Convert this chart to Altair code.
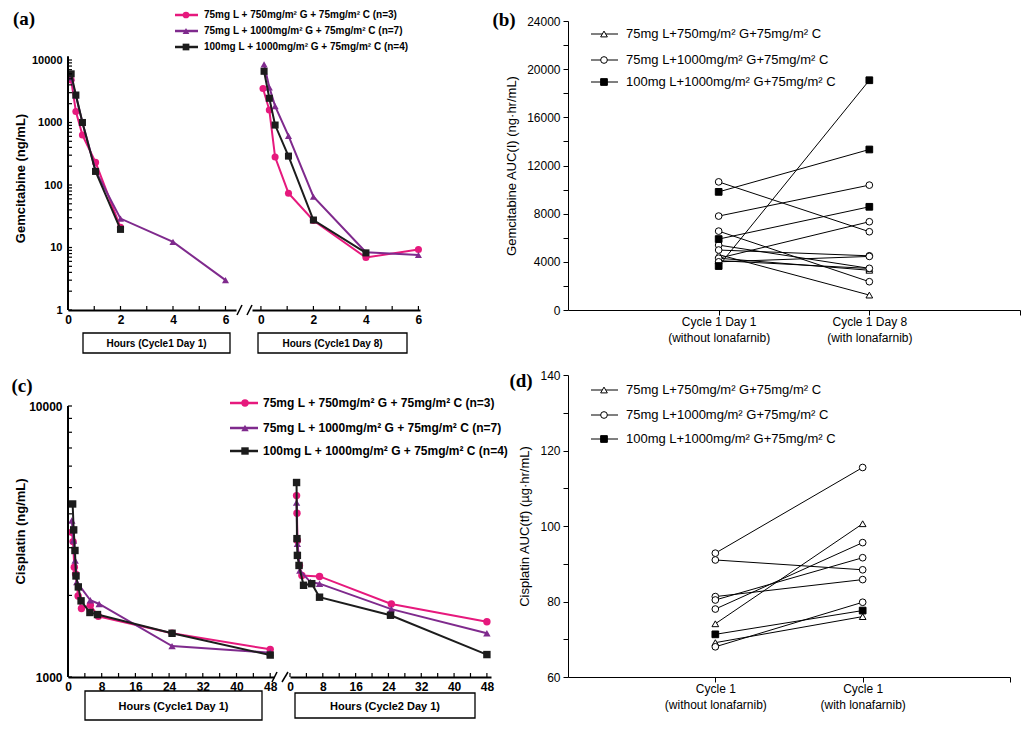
import altair as alt
import pandas as pd

# ---------------- colours, labels ----------------
PINK = "#E6197D"
PURPLE = "#7F2A8D"
BLACK = "#1C1C1C"
PK_COLORS = [PINK, PURPLE, BLACK]
PK_SHAPES = ["circle", "triangle-up", "square"]

PK_LEGEND = [
    "75mg L + 750mg/m² G + 75mg/m² C (n=3)",
    "75mg L + 1000mg/m² G + 75mg/m² C (n=7)",
    "100mg L + 1000mg/m² G + 75mg/m² C (n=4)",
]
AUC_LEGEND = [
    "75mg L+750mg/m² G+75mg/m² C",
    "75mg L+1000mg/m² G+75mg/m² C",
    "100mg L+1000mg/m² G+75mg/m² C",
]

# ---------------- (a) Gemcitabine concentration (ng/mL) ----------------
# Cycle 1 Day 1
a1_pink_t = [0.12, 0.3, 0.55, 1.05, 2.0]
a1_pink_v = [4800, 1500, 630, 230, 21]
a1_purple_t = [0.12, 0.3, 0.55, 1.05, 2.0, 4.0, 6.0]
a1_purple_v = [5200, 2700, 1000, 170, 29, 12.3, 3.0]
a1_black_t = [0.12, 0.3, 0.55, 1.05, 2.0]
a1_black_v = [6000, 2750, 1000, 165, 19.5]
# Cycle 1 Day 8
a8_pink_t = [0.08, 0.32, 0.54, 1.05, 2.0, 4.0, 6.0]
a8_pink_v = [3500, 1580, 280, 74, 27, 6.9, 9.3]
a8_purple_t = [0.12, 0.32, 0.54, 1.05, 2.0, 4.0, 6.0]
a8_purple_v = [8500, 3650, 1830, 610, 65, 8.4, 7.6]
a8_black_t = [0.12, 0.32, 0.54, 1.05, 2.0, 4.0]
a8_black_v = [6600, 2440, 910, 290, 27.5, 8.2]

# ---------------- (c) Cisplatin concentration (ng/mL) ----------------
# Cycle 1 Day 1
c1_pink_t = [0.9, 1.2, 1.5, 1.8, 2.4, 3.2, 5.3, 7.2, 24.7, 48]
c1_pink_v = [3420, 3160, 2540, 2400, 1990, 1790, 1840, 1675, 1450, 1265]
c1_purple_t = [0.9, 1.3, 1.7, 2.1, 5.3, 7.4, 24.7, 48]
c1_purple_v = [3780, 3190, 2690, 2240, 1920, 1860, 1300, 1230]
c1_black_t = [1.1, 1.35, 1.65, 1.9, 2.45, 3.1, 5.2, 7.0, 24.7, 48]
c1_black_v = [4350, 3490, 2930, 2360, 2150, 1910, 1730, 1700, 1450, 1205]
# Cycle 2 Day 1
c2_pink_t = [1.6, 1.7, 1.8, 2.3, 2.9, 7.2, 24.7, 48]
c2_pink_v = [4670, 4020, 3190, 2580, 2370, 2350, 1860, 1600]
c2_purple_t = [1.6, 1.8, 2.4, 5.0, 7.2, 24.7, 48]
c2_purple_v = [4400, 3100, 2470, 2240, 2210, 1780, 1450]
c2_black_t = [1.6, 1.7, 1.8, 2.2, 3.3, 5.3, 7.2, 24.5, 48]
c2_black_v = [5220, 3240, 2810, 2580, 2180, 2210, 1970, 1690, 1210]

# ---------------- (b) Gemcitabine AUC(I) (ng·hr/mL) ----------------
b_tri_day1 = [4600, 4300, 4100]
b_tri_day8 = [1240, 3300, 3450]
b_circ_day1 = [10640, 7800, 6550, 5390, 4980, 4300, 4000]
b_circ_day8 = [6500, 10370, 2350, 3460, 4500, 7330, 4450]
b_sq_day1 = [9810, 5890, 3650]
b_sq_day8 = [13330, 8570, 19080]

# ---------------- (d) Cisplatin AUC(tf) (µg·hr/mL) ----------------
d_tri_c1 = [74.1, 69.1]
d_tri_c2 = [100.6, 76.0]
d_circ_c1 = [92.8, 91.0, 81.3, 80.4, 78.0, 68.0]
d_circ_c2 = [115.5, 88.4, 85.8, 91.6, 95.6, 79.8]
d_sq_c1 = [71.3]
d_sq_c2 = [77.6]

# tick positions
a_xticks = [0, 1, 2, 3, 4, 5, 6]
a_yticks = [m * 10 ** k for k in range(0, 4) for m in range(1, 10)] + [10000]
c_xticks = [0, 4, 8, 12, 16, 20, 24, 28, 32, 36, 40, 44, 48]
c_yticks = [1000, 2000, 3000, 4000, 5000, 6000, 7000, 8000, 9000, 10000]

SANS = "Liberation Sans, Arial, sans-serif"
NARROW = "Liberation Sans Narrow, Arial Narrow, Liberation Sans, sans-serif"
SERIF = "Liberation Serif, Times New Roman, serif"
ONE = pd.DataFrame({"k": [0]})


def txt(x, y, s, size, font=SANS, weight="normal", align="left", baseline="middle"):
    return alt.Chart(ONE).mark_text(
        font=font, fontSize=size, fontWeight=weight, align=align, baseline=baseline, color="black"
    ).encode(x=alt.value(x), y=alt.value(y), text=alt.value(s))


def seg(x0, y0, x1, y1, width=1.5, color="black"):
    return alt.Chart(ONE).mark_rule(color=color, strokeWidth=width).encode(
        x=alt.value(x0), x2=alt.value(x1), y=alt.value(y0), y2=alt.value(y1)
    )


def box(x0, y0, x1, y1, label, size):
    r = alt.Chart(ONE).mark_rect(fill="white", stroke="black", strokeWidth=1.3).encode(
        x=alt.value(x0), x2=alt.value(x1), y=alt.value(y0), y2=alt.value(y1)
    )
    return [r, txt((x0 + x1) / 2, (y0 + y1) / 2 + 1, label, size, weight="bold", align="center")]


def pk_legend(x0, x1, xm, xt, ys, size, msize):
    out = []
    for color, shape, label, y in zip(PK_COLORS, PK_SHAPES, PK_LEGEND, ys):
        out.append(seg(x0, y, x1, y, 2.5, color))
        out.append(alt.Chart(ONE).mark_point(shape=shape, filled=True, color=color, size=msize, opacity=1)
                   .encode(x=alt.value(xm), y=alt.value(y)))
        out.append(txt(xt, y, label, size, NARROW, "bold"))
    return out


AUC_MARKS = [("triangle-up", "white"), ("circle", "white"), ("square", "black")]


def auc_legend(ys, size):
    out = []
    for (shape, fill), label, y in zip(AUC_MARKS, AUC_LEGEND, ys):
        out.append(seg(23, y, 50, y, 1, "black"))
        out.append(alt.Chart(ONE).mark_point(shape=shape, filled=True, fill=fill, stroke="black",
                                             strokeWidth=1, size=45, opacity=1)
                   .encode(x=alt.value(36), y=alt.value(y)))
        out.append(txt(58, y, label, size))
    return out


def pk_series(series, xs, ys, xaxis, yaxis, msize):
    out = []
    for (t, v), color, shape in zip(series, PK_COLORS, PK_SHAPES):
        df = pd.DataFrame({"t": t, "v": v})
        base = alt.Chart(df).encode(x=alt.X("t:Q", scale=xs, axis=xaxis), y=alt.Y("v:Q", scale=ys, axis=yaxis))
        out.append(base.mark_line(color=color, strokeWidth=2))
        out.append(base.mark_point(shape=shape, filled=True, color=color, size=msize, opacity=1))
    return out


def xtick_layer(vals, xs, xaxis, h, length):
    return alt.Chart(pd.DataFrame({"t": vals})).mark_rule(color="black", strokeWidth=1.2).encode(
        x=alt.X("t:Q", scale=xs, axis=xaxis), y=alt.value(h), y2=alt.value(h - length))


def ytick_layer(vals, ys, yaxis, length):
    return alt.Chart(pd.DataFrame({"v": vals})).mark_rule(color="black", strokeWidth=1.2).encode(
        y=alt.Y("v:Q", scale=ys, axis=yaxis), x=alt.value(0), x2=alt.value(length))


def yline_layer(lo, hi, ys, yaxis):
    return alt.Chart(pd.DataFrame({"v": [lo], "hi": [hi]})).mark_rule(color="black", strokeWidth=2).encode(
        x=alt.value(0), y=alt.Y("v:Q", scale=ys, axis=yaxis), y2="hi:Q")


def pk_xaxis(vals):
    return alt.Axis(values=vals, title=None, grid=False, ticks=False, tickSize=0, domainColor="black",
                    domainWidth=2, labelFont=SANS, labelFontWeight="bold", labelFontSize=12,
                    labelColor="black", labelPadding=4, labelFlush=False, format="d")


def pk_yaxis(vals, title, tx, ty, lsize):
    return alt.Axis(values=vals, title=title, grid=False, ticks=False, tickSize=0, domain=False,
                    labelFont=SANS, labelFontWeight="bold", labelFontSize=lsize, labelColor="black",
                    labelPadding=6, labelFlush=False, format="d", titleFont=SANS, titleFontWeight="bold",
                    titleFontSize=13, titleColor="black", titleX=tx, titleY=ty, titleAngle=270,
                    titleAlign="center", titleBaseline="middle")


# ================= panel (a) =================
A_H = 289
A_TOP = 10 ** (4 + 39 / 62.5)
a_ys = alt.Scale(type="log", domain=[1, A_TOP], nice=False)
a1_xs = alt.Scale(domain=[0, 6.4], nice=False, zero=False)
a8_xs = alt.Scale(domain=[-0.34, 6.06], nice=False, zero=False)
a_xax = pk_xaxis([0, 2, 4, 6])
a_yax = pk_yaxis([1, 10, 100, 1000, 10000], "Gemcitabine (ng/mL)", -48, 157, 11)

a_left = alt.layer(
    *pk_series([(a1_pink_t, a1_pink_v), (a1_purple_t, a1_purple_v), (a1_black_t, a1_black_v)],
               a1_xs, a_ys, a_xax, a_yax, 50),
    yline_layer(1, 11500, a_ys, a_yax),
    ytick_layer(a_yticks, a_ys, a_yax, 4),
    xtick_layer(a_xticks, a1_xs, a_xax, A_H, 4),
    seg(169, 294, 174, 284), seg(179, 294, 184, 284),
    *box(15, 312, 162, 332, "Hours (Cycle1 Day 1)", 10),
    *pk_legend(107, 130, 118, 136, [-6, 10, 26], 10, 45),
    txt(-44, -2, "(a)", 19, SERIF, "bold", "center"),
).properties(width=168, height=A_H)

a_right = alt.layer(
    *pk_series([(a8_pink_t, a8_pink_v), (a8_purple_t, a8_purple_v), (a8_black_t, a8_black_v)],
               a8_xs, a_ys, a_xax, None, 50),
    xtick_layer(a_xticks, a8_xs, a_xax, A_H, 4),
    *box(6, 312, 155, 332, "Hours (Cycle1 Day 8)", 10),
).properties(width=168, height=A_H)

# ================= panel (c) =================
C_H = 302
C_TOP = 1000 * 10 ** (1 + 31 / 271)
c_ys = alt.Scale(type="log", domain=[1000, C_TOP], nice=False)
c1_xs = alt.Scale(domain=[0, 48.9], nice=False, zero=False)
c2_xs = alt.Scale(domain=[0, 49], nice=False, zero=False)
c_xax = pk_xaxis([0, 8, 16, 24, 32, 40, 48])
c_yax = pk_yaxis([1000, 10000], "Cisplatin (ng/mL)", -48, 156, 12)

c_left = alt.layer(
    *pk_series([(c1_pink_t, c1_pink_v), (c1_purple_t, c1_purple_v), (c1_black_t, c1_black_v)],
               c1_xs, c_ys, c_xax, c_yax, 55),
    yline_layer(1000, 10000, c_ys, c_yax),
    ytick_layer(c_yticks, c_ys, c_yax, 4),
    xtick_layer(c_xticks, c1_xs, c_xax, C_H, 4),
    seg(204, 307, 209, 297), seg(214, 307, 220, 297),
    *box(17, 316, 194, 345, "Hours (Cycle1 Day 1)", 11),
    *pk_legend(162, 190, 177, 195, [28, 53, 76], 12, 55),
    txt(-46, 11, "(c)", 19, SERIF, "bold", "center"),
).properties(width=206, height=C_H)

c_right = alt.layer(
    *pk_series([(c2_pink_t, c2_pink_v), (c2_purple_t, c2_purple_v), (c2_black_t, c2_black_v)],
               c2_xs, c_ys, c_xax, None, 55),
    xtick_layer(c_xticks, c2_xs, c_xax, C_H, 4),
    *box(5, 318, 185, 343, "Hours (Cycle2 Day 1)", 11),
).properties(width=201, height=C_H)


# ================= AUC panels =================
def auc_frame(groups):
    rows = []
    for g, (d1, d2) in enumerate(groups):
        for i, (u, w) in enumerate(zip(d1, d2)):
            rows.append({"pid": f"{g}-{i}", "g": g, "x": 1, "y": u})
            rows.append({"pid": f"{g}-{i}", "g": g, "x": 2, "y": w})
    return pd.DataFrame(rows)


def auc_panel(groups, ydom, yvals, ystep_label, title, xlabels, width, height, leg_ys, tag, tag_xy):
    df = auc_frame(groups)
    xs = alt.Scale(domain=[0, 3], nice=False, zero=False)
    ys = alt.Scale(domain=ydom, nice=False, zero=False)
    lab_expr = (f"datum.value == 1 ? {xlabels[0]} : datum.value == 2 ? {xlabels[1]} : ''")
    xaxis = alt.Axis(values=[1, 2, 3], title=None, grid=False, tickSize=5, tickColor="black",
                     domainColor="black", domainWidth=1, labelExpr=lab_expr, labelFont=SANS,
                     labelFontSize=12, labelColor="black", labelPadding=1, labelLineHeight=16,
                     labelFlush=False)
    yaxis = alt.Axis(values=yvals, title=title, grid=False, tickSize=5, tickColor="black",
                     domainColor="black", domainWidth=1, format="d",
                     labelExpr=f"datum.value % {ystep_label} == 0 ? datum.label : ''",
                     labelFont=SANS, labelFontSize=12, labelColor="black", labelPadding=3,
                     labelFlush=False, titleFont=SANS, titleFontSize=13, titleFontWeight="normal",
                     titleColor="black", titlePadding=8)
    X = alt.X("x:Q", scale=xs, axis=xaxis)
    Y = alt.Y("y:Q", scale=ys, axis=yaxis)
    layers = [alt.Chart(df).mark_line(color="black", strokeWidth=1).encode(x=X, y=Y, detail="pid:N")]
    for g, (shape, fill) in enumerate(AUC_MARKS):
        layers.append(alt.Chart(df[df.g == g]).mark_point(shape=shape, filled=True, fill=fill, stroke="black",
                                                        strokeWidth=1, size=45, opacity=1)
                      .encode(x=X, y=Y))
    layers += auc_legend(leg_ys, 13)
    layers.append(txt(tag_xy[0], tag_xy[1], tag, 19, SERIF, "bold", "center"))
    return alt.layer(*layers).properties(width=width, height=height)


b_panel = auc_panel(
    [(b_tri_day1, b_tri_day8), (b_circ_day1, b_circ_day8), (b_sq_day1, b_sq_day8)],
    [0, 24000], list(range(0, 24001, 2000)), 4000, "Gemcitabine AUC(I) (ng·hr/mL)",
    ["['Cycle 1 Day 1', '(without lonafarnib)']", "['Cycle 1 Day 8', '(with lonafarnib)']"],
    452, A_H, [13, 39, 61], "(b)", (-64, -1))

d_panel = auc_panel(
    [(d_tri_c1, d_tri_c2), (d_circ_c1, d_circ_c2), (d_sq_c1, d_sq_c2)],
    [60, 140], list(range(60, 141, 10)), 20, "Cisplatin AUC(tf) (µg·hr/mL)",
    ["['Cycle 1', '(without lonafarnib)']", "['Cycle 1', '(with lonafarnib)']"],
    442, C_H, [15, 40, 64], "(d)", (-47, 6))


def spacer(w, h):
    return alt.Chart(ONE).mark_point(opacity=0).encode(x=alt.value(0), y=alt.value(0)).properties(width=w, height=h)


row1 = alt.hconcat(a_left, a_right, spacer(116, A_H), b_panel, spacing=16, bounds="flush")
row2 = alt.hconcat(c_left, c_right, spacer(45, C_H), d_panel, spacing=16, bounds="flush")

chart = alt.vconcat(row1, row2, spacing=15).properties(
    padding={"left": 3, "top": 2, "right": 2, "bottom": 2}, background="white"
).configure_view(stroke=None)

chart.save("out.html", embed_options={"renderer": "svg", "actions": False})
